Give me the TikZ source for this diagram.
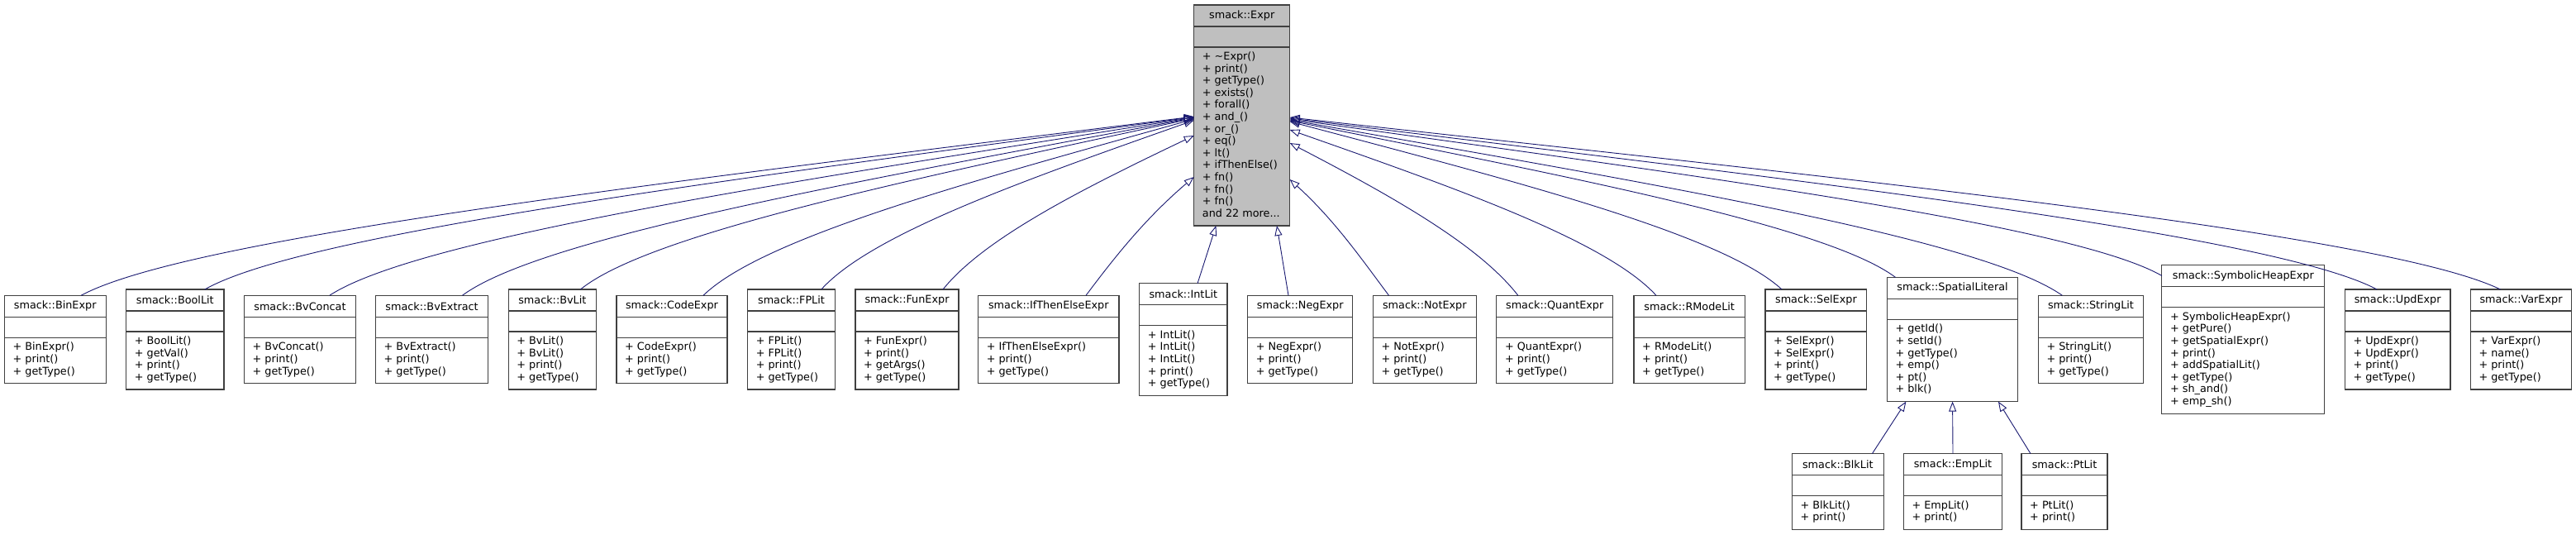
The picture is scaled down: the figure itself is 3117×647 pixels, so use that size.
\documentclass[tikz,border=0pt]{standalone}
\usepackage{fontspec}
\setmainfont{DejaVu Sans}
\usetikzlibrary{arrows.meta,calc}
\definecolor{edgeB}{RGB}{25,25,112}
\definecolor{exprG}{RGB}{191,191,191}
\newcommand{\RowA}{410.5}
\newcommand{\RowB}{594.5}
%% class box: [#1 extra style] #2 name, #3 west point, #4 width, #5 method lines, #6 title, #7 methods
\newcommand{\umlbox}[7][]{%
  \node[box, #1, minimum width=#4, minimum height={62.6+14.6*#5}, anchor=west] (#2) at (#3) {};
  \draw[sep] ([yshift=-26pt]#2.north west) -- ([yshift=-26pt]#2.north east);
  \draw[sep] ([yshift=-51pt]#2.north west) -- ([yshift=-51pt]#2.north east);
  \node[ttl] (#2-t) at ([yshift=-13pt]#2.north) {#6};
  \node[mth] (#2-m) at ([xshift=10pt,yshift=-56.6pt]#2.north west) {#7};}
%% inheritance curve from child point #1 to parent point #2
\newcommand{\inhedge}[2]{%
  \draw[inh] let \p1=(#1), \p2=(#2) in (\p1)
    .. controls ({\x1+0.08*(\x2-\x1)+25pt*sign(\x2-\x1)},{\y1+0.33*(\y2-\y1)})
    and ({\x1+0.55*(\x2-\x1)},{\y2-0.35*(\y2-\y1)}) .. (\p2);}

\begin{document}
\begin{tikzpicture}[x=1pt, y=-1pt,
    box/.style={draw=black!75, line width=1.1pt, fill=white, inner sep=0pt, outer sep=0pt},
    sep/.style={draw=black!75, line width=1.1pt},
    ttl/.style={font=\fontsize{12.8}{14.6}\selectfont, inner sep=0pt},
    mth/.style={font=\fontsize{12.8}{14.6}\selectfont, align=left, anchor=north west, inner sep=0pt},
    inh/.style={draw=edgeB, line width=0.9pt, -{Triangle[open, length=12pt, width=9pt]}},
  ]
  \useasboundingbox (0,0) rectangle (3117,647);

  %% ================= base class =================
  \umlbox[fill=exprG]{expr}{1444.7,139.5}{116}{14}{smack::Expr}{+ \textasciitilde Expr()\\+ print()\\+ getType()\\+ exists()\\+ forall()\\+ and\_()\\+ or\_()\\+ eq()\\+ lt()\\+ ifThenElse()\\+ fn()\\+ fn()\\+ fn()\\and 22 more...}

  %% ================= derived classes =================
  \umlbox{binexpr}{5.4,\RowA}{122.7}{3}{smack::BinExpr}{+ BinExpr()\\+ print()\\+ getType()}
  \umlbox{boollit}{152.7,\RowA}{118.3}{4}{smack::BoolLit}{+ BoolLit()\\+ getVal()\\+ print()\\+ getType()}
  \umlbox{bvconcat}{295.5,\RowA}{134.9}{3}{smack::BvConcat}{+ BvConcat()\\+ print()\\+ getType()}
  \umlbox{bvextract}{454.5,\RowA}{136.1}{3}{smack::BvExtract}{+ BvExtract()\\+ print()\\+ getType()}
  \umlbox{bvlit}{615.2,\RowA}{106.3}{4}{smack::BvLit}{+ BvLit()\\+ BvLit()\\+ print()\\+ getType()}
  \umlbox{codeexpr}{746,\RowA}{134}{3}{smack::CodeExpr}{+ CodeExpr()\\+ print()\\+ getType()}
  \umlbox{fplit}{904.6,\RowA}{105.8}{4}{smack::FPLit}{+ FPLit()\\+ FPLit()\\+ print()\\+ getType()}
  \umlbox{funexpr}{1035,\RowA}{125}{4}{smack::FunExpr}{+ FunExpr()\\+ print()\\+ getArgs()\\+ getType()}
  \umlbox{ifthen}{1183.6,\RowA}{170.4}{3}{smack::IfThenElseExpr}{+ IfThenElseExpr()\\+ print()\\+ getType()}
  \umlbox{intlit}{1378.7,\RowA}{106.3}{5}{smack::IntLit}{+ IntLit()\\+ IntLit()\\+ IntLit()\\+ print()\\+ getType()}
  \umlbox{negexpr}{1509.6,\RowA}{127.2}{3}{smack::NegExpr}{+ NegExpr()\\+ print()\\+ getType()}
  \umlbox{notexpr}{1661.3,\RowA}{125}{3}{smack::NotExpr}{+ NotExpr()\\+ print()\\+ getType()}
  \umlbox{quantexpr}{1810.9,\RowA}{140.6}{3}{smack::QuantExpr}{+ QuantExpr()\\+ print()\\+ getType()}
  \umlbox{rmodelit}{1977,\RowA}{134.4}{3}{smack::RModeLit}{+ RModeLit()\\+ print()\\+ getType()}
  \umlbox{selexpr}{2136,\RowA}{122.8}{4}{smack::SelExpr}{+ SelExpr()\\+ SelExpr()\\+ print()\\+ getType()}
  \umlbox{spatial}{2283.3,\RowA}{158.5}{6}{smack::SpatialLiteral}{+ getId()\\+ setId()\\+ getType()\\+ emp()\\+ pt()\\+ blk()}
  \umlbox{stringlit}{2466.3,\RowA}{127.3}{3}{smack::StringLit}{+ StringLit()\\+ print()\\+ getType()}
  \umlbox{symheap}{2615.9,\RowA}{196.8}{8}{smack::SymbolicHeapExpr}{+ SymbolicHeapExpr()\\+ getPure()\\+ getSpatialExpr()\\+ print()\\+ addSpatialLit()\\+ getType()\\+ sh\_and()\\+ emp\_sh()}
  \umlbox{updexpr}{2837.3,\RowA}{127.7}{4}{smack::UpdExpr}{+ UpdExpr()\\+ UpdExpr()\\+ print()\\+ getType()}
  \umlbox{varexpr}{2989.3,\RowA}{122.4}{4}{smack::VarExpr}{+ VarExpr()\\+ name()\\+ print()\\+ getType()}

  %% ---- spatial literal subclasses ----
  \umlbox{blklit}{2168.3,\RowB}{111}{2}{smack::BlkLit}{+ BlkLit()\\+ print()}
  \umlbox{emplit}{2303.3,\RowB}{119.4}{2}{smack::EmpLit}{+ EmpLit()\\+ print()}
  \umlbox{ptlit}{2446,\RowB}{104}{2}{smack::PtLit}{+ PtLit()\\+ print()}

  %% ================= inheritance edges =================
  \inhedge{[xshift=31.3pt]binexpr.north}{[yshift=-1.5pt]expr.west}
  \inhedge{[xshift=36pt]boollit.north}{[yshift=-2pt]expr.west}
  \inhedge{[xshift=35.8pt]bvconcat.north}{[yshift=-2.5pt]expr.west}
  \inhedge{[xshift=36.9pt]bvextract.north}{[yshift=-3pt]expr.west}
  \inhedge{[xshift=34pt]bvlit.north}{[yshift=-3.5pt]expr.west}
  \inhedge{[xshift=38pt]codeexpr.north}{[yshift=-4.5pt]expr.west}
  \inhedge{[xshift=36.3pt]fplit.north}{[yshift=-6pt]expr.west}
  \inhedge{[xshift=43.5pt]funexpr.north}{[yshift=-24.5pt]expr.west}
  \inhedge{[xshift=45.2pt]ifthen.north}{[yshift=-74.5pt]expr.west}
  \draw[inh] ([xshift=17.2pt]intlit.north) -- ([xshift=-31.3pt]expr.south);
  \draw[inh] ([xshift=-14.2pt]negexpr.north) -- ([xshift=42.3pt]expr.south);
  \inhedge{[xshift=-43.3pt]notexpr.north}{[yshift=-77.5pt]expr.east}
  \inhedge{[xshift=-44.4pt]quantexpr.north}{[yshift=-33.5pt]expr.east}
  \inhedge{[xshift=-40.2pt]rmodelit.north}{[yshift=-17.5pt]expr.east}
  \inhedge{[xshift=-41.4pt]selexpr.north}{[yshift=-7.5pt]expr.east}
  \inhedge{[xshift=-69pt]spatial.north}{[yshift=-6.5pt]expr.east}
  \inhedge{[xshift=-34.6pt]stringlit.north}{[yshift=-5.5pt]expr.east}
  \inhedge{[yshift=-12.7pt]symheap.north west}{[yshift=-4.5pt]expr.east}
  \inhedge{[xshift=-25pt]updexpr.north}{[yshift=-3.5pt]expr.east}
  \inhedge{[xshift=-25pt]varexpr.north}{[yshift=-2.5pt]expr.east}

  \draw[inh] ([xshift=41.6pt]blklit.north) -- ([xshift=-56.2pt]spatial.south);
  \draw[inh] (emplit.north) -- (spatial.south);
  \draw[inh] ([xshift=-41pt]ptlit.north) -- ([xshift=55.4pt]spatial.south);

\end{tikzpicture}
\end{document}
